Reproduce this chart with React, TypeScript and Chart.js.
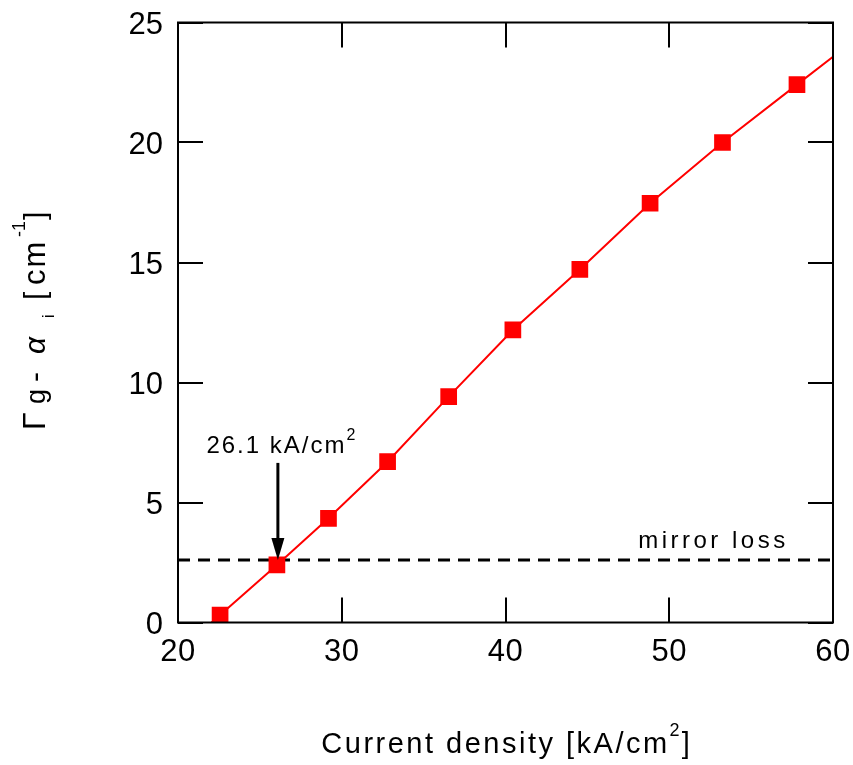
import React, { useEffect, useRef } from "react";
import { Chart, registerables } from "chart.js";

Chart.register(...registerables);

// Measured points: current density [kA/cm^2] vs net modal gain [cm^-1]
const currentDensity = [22.57, 26.04, 29.19, 32.8, 36.53, 40.45, 44.54, 48.83, 53.25, 57.8];
const netGain = [0.31, 2.4, 4.34, 6.7, 9.41, 12.19, 14.71, 17.47, 20.0, 22.41];

// Trend curve: through the measured points, extended to the frame at both ends
const trendStart = { x: 22.05, y: 0 };
const trendEnd = { x: 60, y: 23.57 };

// Mirror loss level and threshold annotation
const mirrorLoss = 2.6;
const mirrorSpanX = [20, 60];
const thresholdDensity = 26.1;
const arrowTopGain = 6.65;
const mirrorLabelX = 52.7;

const xTickValues = [20, 30, 40, 50, 60];
const yTickValues = [0, 5, 10, 15, 20, 25];
const xTickLabels = ["20", "30", "40", "50", "60"];
const yTickLabels = ["0", "5", "10", "15", "20", "25"];

const FONT = '"Liberation Sans", Arial, sans-serif';

type Seg = { t: string; size: number; dy?: number; italic?: boolean; sp?: number; off?: number };

function fontOf(s: Seg) {
  return `${s.italic ? "italic " : ""}${s.size}px ${FONT}`;
}

function segWidth(ctx: CanvasRenderingContext2D, s: Seg) {
  ctx.font = fontOf(s);
  const sp = s.sp || 0;
  let w = 0;
  for (const ch of s.t) w += ctx.measureText(ch).width + sp;
  return w;
}

// Draws a run of text segments; align: 0 = left, 0.5 = centre, 1 = right
function drawRich(
  ctx: CanvasRenderingContext2D,
  segs: Seg[],
  x: number,
  y: number,
  align = 0.5
) {
  const widths = segs.map((s) => segWidth(ctx, s));
  const total = widths.reduce((a, b) => a + b, 0);
  let cx = x - total * align;
  ctx.textAlign = "left";
  ctx.textBaseline = "alphabetic";
  segs.forEach((s) => {
    ctx.font = fontOf(s);
    const sp = s.sp || 0;
    for (const ch of s.t) {
      ctx.fillText(ch, cx, y + (s.dy || 0));
      cx += ctx.measureText(ch).width + sp;
    }
  });
}

// Draws segments each placed at its own offset from the run start
function drawPlaced(ctx: CanvasRenderingContext2D, segs: Seg[], x: number, y: number) {
  ctx.textAlign = "left";
  ctx.textBaseline = "alphabetic";
  segs.forEach((s) => {
    ctx.font = fontOf(s);
    const sp = s.sp || 0;
    let cx = x + (s.off || 0);
    for (const ch of s.t) {
      ctx.fillText(ch, cx, y + (s.dy || 0));
      cx += ctx.measureText(ch).width + sp;
    }
  });
}

const decorations = {
  id: "decorations",
  afterDraw(chart: any) {
    const { ctx, chartArea } = chart;
    const { left, right, top, bottom } = chartArea;
    const xs = chart.scales.x;
    const ys = chart.scales.y;
    ctx.save();
    ctx.strokeStyle = "#000";
    ctx.fillStyle = "#000";

    // frame
    ctx.lineWidth = 2;
    ctx.strokeRect(left, top, right - left, bottom - top);

    // inward ticks on all four sides
    const tl = 25;
    ctx.beginPath();
    xTickValues.forEach((v) => {
      const px = Math.round(xs.getPixelForValue(v));
      ctx.moveTo(px, bottom);
      ctx.lineTo(px, bottom - tl);
      ctx.moveTo(px, top);
      ctx.lineTo(px, top + tl);
    });
    yTickValues.forEach((v) => {
      const py = Math.round(ys.getPixelForValue(v));
      ctx.moveTo(left, py);
      ctx.lineTo(left + tl, py);
      ctx.moveTo(right, py);
      ctx.lineTo(right - tl, py);
    });
    ctx.stroke();

    // tick labels
    xTickValues.forEach((v, i) => {
      drawRich(ctx, [{ t: xTickLabels[i], size: 31, sp: 0.5 }], xs.getPixelForValue(v), bottom + 38);
    });
    yTickValues.forEach((v, i) => {
      drawRich(ctx, [{ t: yTickLabels[i], size: 31 }], left - 15, ys.getPixelForValue(v) + 11, 1);
    });

    // threshold arrow
    const ax = xs.getPixelForValue(thresholdDensity);
    const ay1 = ys.getPixelForValue(arrowTopGain);
    const ay2 = ys.getPixelForValue(mirrorLoss);
    ctx.lineWidth = 3;
    ctx.beginPath();
    ctx.moveTo(ax, ay1);
    ctx.lineTo(ax, ay2 - 16);
    ctx.stroke();
    ctx.beginPath();
    ctx.moveTo(ax - 6.5, ay2 - 22);
    ctx.lineTo(ax + 6.5, ay2 - 22);
    ctx.lineTo(ax, ay2);
    ctx.closePath();
    ctx.fill();

    // annotations
    drawRich(
      ctx,
      [
        { t: "26.1 kA/cm", size: 24, sp: 2 },
        { t: "2", size: 16, dy: -13 },
      ],
      ax + 3,
      ay1 - 10
    );
    drawRich(
      ctx,
      [{ t: "mirror loss", size: 24, sp: 3.5 }],
      xs.getPixelForValue(mirrorLabelX),
      ay2 - 12
    );

    // x axis title
    drawRich(
      ctx,
      [
        { t: "Current density [kA/cm", size: 29, sp: 2.5 },
        { t: "2", size: 18, dy: -17, sp: 2 },
        { t: "]", size: 29 },
      ],
      (left + right) / 2,
      753
    );

    // y axis title (rotated, reading upwards)
    ctx.save();
    ctx.translate(45, 430);
    ctx.rotate(-Math.PI / 2);
    drawPlaced(
      ctx,
      [
        { t: "Γ", size: 32, off: 0 },
        { t: "g", size: 27, off: 26 },
        { t: "-", size: 30, off: 48 },
        { t: "α", size: 30, italic: true, off: 76 },
        { t: "i", size: 16, dy: 9, off: 112 },
        { t: "[", size: 30, off: 130 },
        { t: "cm", size: 31, sp: 2, off: 145 },
        { t: "-1", size: 18, dy: -20, off: 193 },
        { t: "]", size: 30, off: 210 },
      ],
      0,
      0
    );
    ctx.restore();

    ctx.restore();
  },
};

export default function App() {
  const canvasRef = useRef<HTMLCanvasElement | null>(null);

  useEffect(() => {
    document.body.style.margin = "0";
    const canvas = canvasRef.current;
    if (!canvas) return;

    const measured = currentDensity.map((x, i) => ({ x, y: netGain[i] }));

    const chart = new Chart(canvas, {
      type: "scatter",
      data: {
        datasets: [
          {
            label: "measured",
            data: measured,
            showLine: false,
            pointStyle: "rect",
            pointRadius: 11.8,
            pointHoverRadius: 11.8,
            pointBackgroundColor: "#ff0000",
            pointBorderWidth: 0,
            backgroundColor: "#ff0000",
            borderColor: "#ff0000",
          },
          {
            label: "trend",
            data: [trendStart, ...measured, trendEnd],
            showLine: true,
            borderColor: "#ff0000",
            borderWidth: 2,
            pointRadius: 0,
            tension: 0,
          },
          {
            label: "mirror loss",
            data: mirrorSpanX.map((x) => ({ x, y: mirrorLoss })),
            showLine: true,
            borderColor: "#000",
            borderWidth: 3,
            borderDash: [12, 8],
            pointRadius: 0,
          },
        ],
      },
      options: {
        animation: false,
        responsive: false,
        devicePixelRatio: 1,
        layout: { padding: { top: 22.5, right: 20, left: 0, bottom: 0 } },
        plugins: {
          legend: { display: false },
          tooltip: { enabled: false },
        },
        scales: {
          x: {
            type: "linear",
            min: 20,
            max: 60,
            grid: { display: false, drawTicks: false },
            border: { display: false },
            ticks: { display: false, stepSize: 10 },
            afterFit: (s: any) => {
              s.height = 142.5;
              s.paddingLeft = 0;
              s.paddingRight = 0;
            },
          },
          y: {
            type: "linear",
            min: 0,
            max: 25,
            grid: { display: false, drawTicks: false },
            border: { display: false },
            ticks: { display: false, stepSize: 5 },
            afterFit: (s: any) => {
              s.width = 178;
              s.paddingTop = 0;
              s.paddingBottom = 0;
            },
          },
        },
      },
      plugins: [decorations],
    });

    return () => chart.destroy();
  }, []);

  return <canvas ref={canvasRef} width={853} height={765} style={{ display: "block" }} />;
}
